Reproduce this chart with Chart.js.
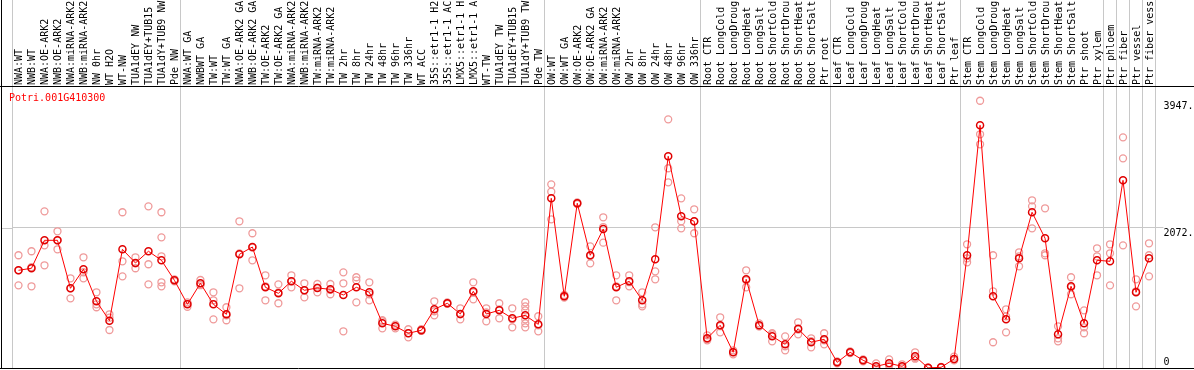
<!DOCTYPE html>
<html>
<head>
<meta charset="utf-8">
<script src="https://cdn.jsdelivr.net/npm/chart.js@4/dist/chart.umd.min.js"></script>
<style>
  html, body { margin: 0; padding: 0; background: #fff; }
  #wrap { width: 1194px; height: 370px; }
</style>
</head>
<body>
<div id="wrap"><canvas id="expr" width="1194" height="370"></canvas></div>
<script>
// sample names, truncated the same way as in the plot
const nwLabels = ['NWA:WT', 'NWB:WT', 'NWA:OE-ARK2', 'NWB:OE-ARK2', 'NWA:miRNA-ARK2', 'NWB:miRNA-ARK2',
  'NW 0hr', 'WT H2O', 'WT-NW', 'TUA1dEY NW', 'TUA1dEY+TUB15', 'TUA1dY+TUB9 NW', 'Pde NW'];
const twLabels = ['NWA:WT GA', 'NWBWT GA', 'TW:WT', 'TW:WT GA', 'NWA:OE-ARK2 GA', 'NWB:OE-ARK2 GA',
  'TW:OE-ARK2', 'TW:OE-ARK2 GA', 'NWA:miRNA-ARK2', 'NWB:miRNA-ARK2', 'TW:miRNA-ARK2', 'TW:miRNA-ARK2',
  'TW 2hr', 'TW 8hr', 'TW 24hr', 'TW 48hr', 'TW 96hr', 'TW 336hr', 'WT ACC', '35S::etr1-1 H2',
  '35S::etr1-1 AC', 'LMX5::etr1-1 H', 'LMX5::etr1-1 A', 'WT-TW', 'TUA1dEY TW', 'TUA1dEY+TUB15',
  'TUA1dY+TUB9 TW', 'Pde TW'];
const owLabels = ['OW:WT', 'OW:WT GA', 'OW:OE-ARK2', 'OW:OE-ARK2 GA', 'OW:miRNA-ARK2', 'OW:miRNA-ARK2',
  'OW 2hr', 'OW 8hr', 'OW 24hr', 'OW 48hr', 'OW 96hr', 'OW 336hr'];
const rootLabels = ['Root CTR', 'Root LongCold', 'Root LongDroug', 'Root LongHeat', 'Root LongSalt',
  'Root ShortCold', 'Root ShortDrou', 'Root ShortHeat', 'Root ShortSalt', 'Ptr root'];
const leafLabels = ['Leaf CTR', 'Leaf LongCold', 'Leaf LongDroug', 'Leaf LongHeat', 'Leaf LongSalt',
  'Leaf ShortCold', 'Leaf ShortDrou', 'Leaf ShortHeat', 'Leaf ShortSalt', 'Ptr leaf'];
const stemLabels = ['Stem CTR', 'Stem LongCold', 'Stem LongDroug', 'Stem LongHeat', 'Stem LongSalt',
  'Stem ShortCold', 'Stem ShortDrou', 'Stem ShortHeat', 'Stem ShortSalt', 'Ptr shoot', 'Ptr xylem'];
const ptrLabels = ['Ptr phloem', 'Ptr fiber', 'Ptr vessel', 'Ptr fiber vess'];

// mean expression per sample
const nwMean = [1443, 1473, 1886, 1886, 1177, 1458, 985, 699, 1753, 1551, 1724, 1591, 1295];
const twMean = [941, 1251, 941, 793, 1679, 1787, 1192, 1103, 1281, 1148, 1182, 1162, 1078, 1192,
  1118, 660, 616, 513, 557, 867, 956, 798, 1133, 798, 852, 734, 778, 645];
const owMean = [2506, 1059, 2433, 1665, 2053, 1192, 1281, 1000, 1605, 3127, 2241, 2167];
const rootMean = [439, 631, 232, 1310, 631, 468, 350, 580, 380, 424];
const leafMean = [84, 232, 114, 25, 69, 25, 173, 2, 10, 133];
const stemMean = [1665, 3585, 1059, 719, 1620, 2300, 1916, 498, 1207, 660, 1591];
const ptrMean = [1576, 2772, 1118, 1620];

// individual replicates per sample
const nwReps = [[1665, 1221, 1443], [1724, 1207, 1490], [2314, 1812, 1517], [2019, 1753, 1886],
  [1325, 1029, 1177], [1635, 1325, 1414], [1118, 897, 940], [793, 561, 743], [2300, 1576, 1354],
  [1635, 1473, 1545], [2388, 1532, 1236], [2300, 1930, 1650, 1266, 1207], [1295, 1280, 1310]];
const twReps = [[970, 905, 948], [1300, 1230, 1223], [1118, 1000, 719], [897, 705, 777],
  [2167, 1177, 1693], [1990, 1591, 1780], [1369, 1000, 1207], [1236, 956, 1117], [1369, 1192, 1282],
  [1251, 1044, 1149], [1241, 1118, 1187], [1241, 1089, 1156], [1413, 1251, 542], [1340, 1295, 970],
  [1266, 1000, 1088], [705, 586, 689], [586, 640, 622], [572, 453, 514], [572, 550, 549],
  [985, 778, 838], [970, 950, 948], [882, 719, 793], [1266, 1015, 1118], [882, 690, 822],
  [956, 734, 866], [882, 601, 719], [970, 911, 852, 719, 660, 601], [764, 542, 629]];
const owReps = [[2713, 2604, 2196], [1059, 1040, 1078], [2433, 2420, 2446], [1797, 1546, 1652],
  [2226, 1851, 2082], [1369, 1000, 1207], [1369, 1207, 1267], [1118, 941, 911], [2078, 1428, 1310],
  [3673, 2950, 2743], [2506, 2167, 2063], [2344, 1990, 2167]];
const rootReps = [[483, 409, 425], [749, 527, 617], [261, 202, 233], [1443, 1192, 1295],
  [660, 616, 617], [513, 394, 497], [468, 261, 321], [675, 498, 567], [439, 306, 395], [513, 350, 409]];
const leafReps = [[84, 70, 98], [232, 220, 244], [114, 100, 128], [69, 6, 0], [128, 40, 39],
  [55, 10, 10], [232, 150, 137], [2, 0, 4], [10, 5, 15], [167, 120, 112]];
const stemReps = [[1827, 1620, 1561], [3947, 3452, 3304], [1665, 1133, 380], [867, 527, 763],
  [1709, 1502, 1650], [2477, 2388, 2063], [2359, 1694, 1665], [616, 439, 394], [1340, 1089, 1192],
  [852, 601, 513], [1768, 1650, 1369]];
const ptrReps = [[1827, 1694, 1221], [3407, 3097, 1812], [1310, 911, 1133], [1842, 1354, 1665]];

// y axis ticks and the gray reference line
const yTicks = [0, 2072, 3947];
const refLine = 2072;
// sample indices where a gray separator is drawn
const groupEdges = [0, 13, 41, 53, 63, 73, 84, 85, 86, 87, 88];

const geneName = 'Potri.001G410300';

const labels = [].concat(nwLabels, twLabels, owLabels, rootLabels, leafLabels, stemLabels, ptrLabels);
const means = [].concat(nwMean, twMean, owMean, rootMean, leafMean, stemMean, ptrMean);
const reps = [].concat(nwReps, twReps, owReps, rootReps, leafReps, stemReps, ptrReps);

const MONO = '"DejaVu Sans Mono", "Liberation Mono", monospace';
const GRID = '#c8c8c8';

// one scatter dataset per replicate slot
const maxReps = Math.max(...reps.map(r => r.length));
const repSets = [];
for (let k = 0; k < maxReps; k++) {
  repSets.push({
    data: reps.map(r => (k < r.length ? r[k] : null)),
    showLine: false,
    borderColor: '#ef9a9a',
    backgroundColor: 'rgba(0,0,0,0)',
    pointRadius: 3.5,
    pointBorderWidth: 1.3,
    pointStyle: 'circle'
  });
}

// frame lines and the gene name
const framePlugin = {
  id: 'frame',
  afterDraw(chart) {
    const { ctx, chartArea, scales } = chart;
    const W = chart.width;
    const yRef = Math.round(scales.y.getPixelForValue(refLine)) + 0.5;
    ctx.save();
    ctx.lineWidth = 1;
    ctx.strokeStyle = GRID;
    ctx.beginPath();
    ctx.moveTo(1, yRef);
    ctx.lineTo(chartArea.left, yRef);
    ctx.stroke();

    ctx.strokeStyle = '#000';
    ctx.beginPath();
    ctx.moveTo(1.5, 0);
    ctx.lineTo(1.5, chartArea.bottom + 1);
    ctx.moveTo(0, Math.round(chartArea.top) + 0.5);
    ctx.lineTo(W, Math.round(chartArea.top) + 0.5);
    ctx.moveTo(0, Math.round(chartArea.bottom) + 0.5);
    ctx.lineTo(W, Math.round(chartArea.bottom) + 0.5);
    ctx.stroke();

    ctx.fillStyle = '#ff0000';
    ctx.font = '10px ' + MONO;
    ctx.textBaseline = 'alphabetic';
    ctx.fillText(geneName, 9, 101);
    ctx.restore();
  }
};

new Chart(document.getElementById('expr'), {
  type: 'line',
  data: {
    labels: labels,
    datasets: [{
      data: means,
      borderColor: '#ff0000',
      borderWidth: 1,
      tension: 0,
      pointRadius: 3.5,
      pointBorderWidth: 1.5,
      pointBorderColor: '#e00000',
      pointBackgroundColor: 'rgba(0,0,0,0)',
      fill: false
    }].concat(repSets)
  },
  options: {
    responsive: false,
    animation: false,
    layout: { autoPadding: false, padding: { left: 12, right: 0, top: 0, bottom: 2 } },
    plugins: { legend: { display: false }, tooltip: { enabled: false } },
    scales: {
      x: {
        type: 'category',
        position: 'top',
        offset: true,
        grid: {
          offset: true,
          tickLength: 86,
          lineWidth: 1,
          color: ctx => {
            const i = ctx.index === undefined ? labels.length : ctx.index;
            return groupEdges.includes(i) ? GRID : 'rgba(0,0,0,0)';
          }
        },
        border: { display: false },
        ticks: {
          autoSkip: false,
          minRotation: 90,
          maxRotation: 90,
          padding: -85,
          labelOffset: 13,
          color: '#000',
          font: { family: MONO, size: 10 }
        },
        afterFit: s => {
          s.height = 86;
          s.paddingLeft = 0;
          s.paddingRight = 0;
        }
      },
      y: {
        position: 'right',
        min: 0,
        max: 4165,
        afterBuildTicks: s => { s.ticks = yTicks.map(v => ({ value: v })); },
        grid: {
          tickLength: 8,
          color: ctx => (ctx.tick && ctx.tick.value === refLine ? GRID : 'rgba(0,0,0,0)')
        },
        border: { display: false },
        ticks: {
          padding: 0,
          color: '#000',
          font: { family: MONO, size: 10 },
          callback: v => (v === 0 ? ['0', ''] : ['', v + '.'])
        },
        afterFit: s => {
          s.width = 38.5;
          s.paddingTop = 0;
          s.paddingBottom = 0;
        }
      }
    }
  },
  plugins: [framePlugin]
});
</script>
</body>
</html>
